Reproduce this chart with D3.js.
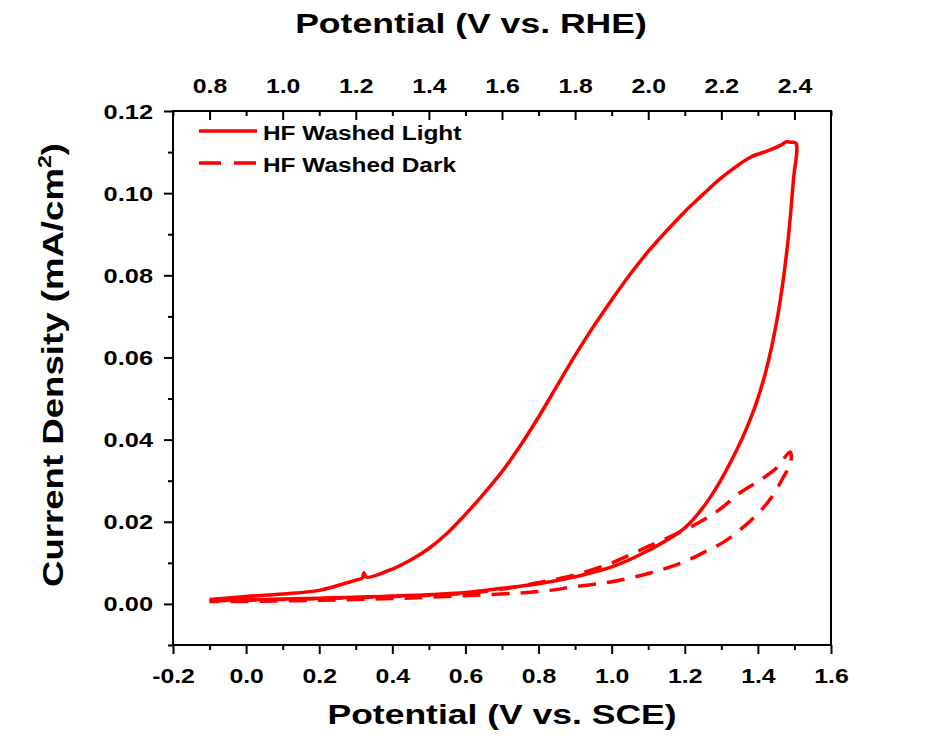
<!DOCTYPE html>
<html>
<head>
<meta charset="utf-8">
<script src="https://cdn.jsdelivr.net/npm/d3@7"></script>
<style>
  body { margin: 0; background: #fff; }
  text { font-family: "Liberation Sans", Arial, sans-serif; font-weight: bold; fill: #000; }
</style>
</head>
<body>
<script>
// Data: potential (V vs. SCE) and current density (mA/cm2)
const lightV = [-0.10, 0.00, 0.20, 0.40, 0.60, 0.70, 0.80, 0.90, 1.00, 1.10, 1.20, 1.27, 1.345, 1.39, 1.42, 1.455, 1.48, 1.497, 1.504,
  1.49, 1.478, 1.463, 1.43, 1.381, 1.33, 1.29, 1.25, 1.20, 1.15, 1.10, 1.05, 1.00, 0.95, 0.90, 0.85, 0.80, 0.75, 0.70, 0.65, 0.60,
  0.55, 0.50, 0.45, 0.40, 0.33, 0.322, 0.318, 0.30, 0.20, 0.10, 0.00, -0.10];
const lightJ = [0.0008, 0.0010, 0.0014, 0.0019, 0.0028, 0.0038, 0.0049, 0.0066, 0.0090, 0.0130, 0.0185, 0.0260, 0.0380, 0.0475, 0.0560, 0.0705, 0.0865, 0.1030, 0.1122,
  0.1124, 0.1125, 0.1117, 0.1104, 0.1088, 0.1058, 0.1030, 0.0997, 0.0955, 0.0908, 0.0858, 0.0802, 0.0740, 0.0675, 0.0605, 0.0530, 0.0455, 0.0385, 0.0322, 0.0268, 0.0218,
  0.0172, 0.0135, 0.0107, 0.0085, 0.0065, 0.0076, 0.0063, 0.0058, 0.0033, 0.0024, 0.0018, 0.0011];

const darkV = [-0.10, 0.00, 0.20, 0.40, 0.60, 0.70, 0.80, 0.90, 1.00, 1.10, 1.20, 1.26, 1.30, 1.35, 1.40, 1.45, 1.488,
  1.49, 1.47, 1.436, 1.40, 1.36, 1.307, 1.26, 1.21, 1.16, 1.10, 1.00, 0.90, 0.80, 0.60, 0.40, 0.20, 0.00, -0.10];
const darkJ = [0.0008, 0.0009, 0.0013, 0.0018, 0.0026, 0.0036, 0.0052, 0.0071, 0.0100, 0.0140, 0.0180, 0.0209, 0.0233, 0.0270, 0.0298, 0.0330, 0.0370,
  0.0345, 0.0309, 0.0258, 0.0220, 0.0187, 0.0151, 0.0129, 0.0107, 0.0090, 0.0074, 0.0054, 0.0042, 0.0030, 0.0020, 0.0013, 0.0009, 0.0006, 0.0006];

const xTicks = [-0.2, 0.0, 0.2, 0.4, 0.6, 0.8, 1.0, 1.2, 1.4, 1.6];
const xMinor = [-0.1, 0.1, 0.3, 0.5, 0.7, 0.9, 1.1, 1.3, 1.5];
const rheTicks = [0.8, 1.0, 1.2, 1.4, 1.6, 1.8, 2.0, 2.2, 2.4];
const rheMinor = [0.7, 0.9, 1.1, 1.3, 1.5, 1.7, 1.9, 2.1, 2.3, 2.5];
const yTicks = [0.00, 0.02, 0.04, 0.06, 0.08, 0.10, 0.12];
const yMinor = [-0.01, 0.01, 0.03, 0.05, 0.07, 0.09, 0.11];

const seriesNames = ['HF Washed Light', 'HF Washed Dark'];

const width = 949;
const height = 746;
const plot = {left: 173, right: 831, top: 111, bottom: 645};
const red = '#ff0000';

const svg = d3.select('body').append('svg')
  .attr('width', width)
  .attr('height', height);

// scales
const x = d3.scaleLinear().domain([-0.2, 1.6]).range([plot.left, plot.right]);
const xTop = d3.scaleLinear().domain([0.7, 2.5]).range([plot.left, plot.right]);
const y = d3.scaleLinear().domain([-0.01, 0.12]).range([plot.bottom, plot.top]);

// plain hyphen for negatives, like the original
const fmt1 = d => d3.format('.1f')(d).replace('\u2212', '-');
const fmt2 = d => d3.format('.2f')(d).replace('\u2212', '-');

// widen glyphs like the original (it is stretched sideways)
function stretch(sel, sx) {
  sel.each(function() {
    const len = this.getComputedTextLength();
    d3.select(this).attr('textLength', len * sx).attr('lengthAdjust', 'spacingAndGlyphs');
  });
}

function styleAxis(g) {
  g.select('.domain').remove();
  g.selectAll('line').attr('stroke', '#000').attr('stroke-width', 2);
}

// bottom axis
const xAxisG = svg.append('g')
  .attr('transform', `translate(0,${plot.bottom})`)
  .call(d3.axisBottom(x).tickValues(xTicks).tickSize(9).tickSizeOuter(0).tickFormat(fmt1));
styleAxis(xAxisG);
xAxisG.selectAll('text').attr('y', 38).attr('dy', null).attr('font-size', '20px');
stretch(xAxisG.selectAll('text'), 1.24);

const xMinorG = svg.append('g')
  .attr('transform', `translate(0,${plot.bottom})`)
  .call(d3.axisBottom(x).tickValues(xMinor).tickSize(5).tickSizeOuter(0).tickFormat(''));
styleAxis(xMinorG);

// top axis (RHE), ticks point into the plot
const topG = svg.append('g')
  .attr('transform', `translate(0,${plot.top})`)
  .call(d3.axisTop(xTop).tickValues(rheTicks).tickSize(-9).tickSizeOuter(0).tickFormat(fmt1));
styleAxis(topG);
topG.selectAll('text').attr('y', -18).attr('dy', null).attr('font-size', '20px');
stretch(topG.selectAll('text'), 1.24);

const topMinorG = svg.append('g')
  .attr('transform', `translate(0,${plot.top})`)
  .call(d3.axisTop(xTop).tickValues(rheMinor).tickSize(-5).tickSizeOuter(0).tickFormat(''));
styleAxis(topMinorG);

// left axis
const yAxisG = svg.append('g')
  .attr('transform', `translate(${plot.left},0)`)
  .call(d3.axisLeft(y).tickValues(yTicks).tickSize(9).tickSizeOuter(0).tickFormat(fmt2));
styleAxis(yAxisG);
yAxisG.selectAll('text').attr('x', -20).attr('dy', '0.35em').attr('font-size', '20px');
stretch(yAxisG.selectAll('text'), 1.27);

const yMinorG = svg.append('g')
  .attr('transform', `translate(${plot.left},0)`)
  .call(d3.axisLeft(y).tickValues(yMinor).tickSize(5).tickSizeOuter(0).tickFormat(''));
styleAxis(yMinorG);

// frame
svg.append('rect')
  .attr('x', plot.left)
  .attr('y', plot.top)
  .attr('width', plot.right - plot.left)
  .attr('height', plot.bottom - plot.top)
  .attr('fill', 'none')
  .attr('stroke', '#000')
  .attr('stroke-width', 2);

// curves
const line = d3.line()
  .x(d => x(d[0]))
  .y(d => y(d[1]))
  .curve(d3.curveCatmullRom.alpha(0.5));

const lightData = lightV.map((v, i) => [v, lightJ[i]]);
const darkData = darkV.map((v, i) => [v, darkJ[i]]);

svg.append('path')
  .datum(darkData)
  .attr('d', line)
  .attr('fill', 'none')
  .attr('stroke', red)
  .attr('stroke-width', 3.5)
  .attr('stroke-dasharray', '18,11');

svg.append('path')
  .datum(lightData)
  .attr('d', line)
  .attr('fill', 'none')
  .attr('stroke', red)
  .attr('stroke-width', 3.5)
  .attr('stroke-linejoin', 'round');

// legend
const legend = svg.append('g');
[0, 1].forEach(i => {
  const ly = 131 + i * 32;
  legend.append('line')
    .attr('x1', 199).attr('x2', 257)
    .attr('y1', ly).attr('y2', ly)
    .attr('stroke', red)
    .attr('stroke-width', 3.5)
    .attr('stroke-dasharray', i === 1 ? '22,13' : null);
  legend.append('text')
    .attr('x', 263)
    .attr('y', ly + 9)
    .attr('font-size', '20px')
    .text(seriesNames[i]);
});
stretch(legend.selectAll('text'), 1.22);

// axis titles
const bottomTitle = svg.append('text')
  .attr('x', 502)
  .attr('y', 724)
  .attr('text-anchor', 'middle')
  .attr('font-size', '28.5px')
  .text('Potential (V vs. SCE)');
stretch(bottomTitle, 1.245);

const topTitle = svg.append('text')
  .attr('x', 471)
  .attr('y', 33)
  .attr('text-anchor', 'middle')
  .attr('font-size', '28px')
  .text('Potential (V vs. RHE)');
stretch(topTitle, 1.27);

const yTitle = svg.append('text')
  .attr('transform', 'translate(63,365) rotate(-90)')
  .attr('text-anchor', 'middle')
  .attr('font-size', '30px');
yTitle.append('tspan').text('Current Density (mA/cm');
yTitle.append('tspan').attr('dy', -12).attr('font-size', '19px').text('2');
yTitle.append('tspan').attr('dy', 12).text(')');
stretch(yTitle, 1.22);
</script>
</body>
</html>
